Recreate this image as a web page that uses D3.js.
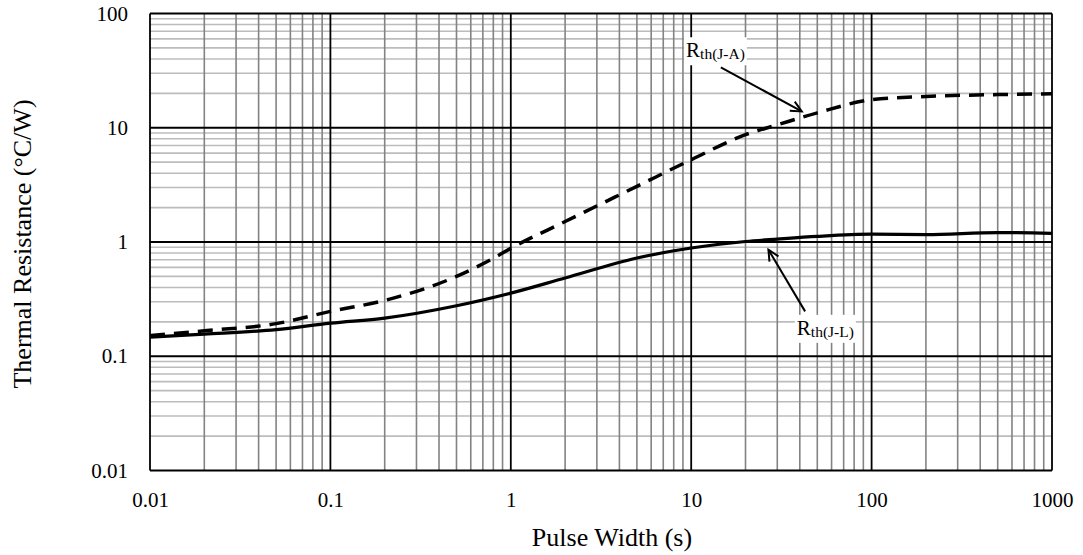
<!DOCTYPE html>
<html lang="en">
	<head>
		<meta charset="utf-8">
		<title>Transient thermal resistance</title>
		<script type="text/javascript" src="https://cdn.jsdelivr.net/npm/d3@7"></script>
		<style type="text/css">
			body { margin: 0; background: #fff; }
			text { font-family: "Liberation Serif", "Times New Roman", serif; fill: #000; }
		</style>
	</head>
	<body>
		<script type="text/javascript">

			//Data
			let pulseJL = [0.01, 0.02, 0.05, 0.1, 0.2, 0.5, 1, 2, 5, 10, 20, 30, 50, 100, 200, 500, 1000];
			let rthJL   = [0.147, 0.156, 0.171, 0.195, 0.216, 0.277, 0.357, 0.484, 0.724, 0.886, 1.01, 1.06, 1.12, 1.17, 1.16, 1.21, 1.19];

			let pulseJA = [0.01, 0.02, 0.05, 0.1, 0.2, 0.5, 0.8, 1, 2, 5, 10, 20, 30, 50, 100, 200, 500, 1000];
			let rthJA   = [0.152, 0.167, 0.193, 0.247, 0.308, 0.50, 0.72, 0.88, 1.51, 3.07, 5.25, 8.7, 10.6, 13.5, 17.6, 18.8, 19.5, 19.8];

			let xTickValues = [0.01, 0.1, 1, 10, 100, 1000];
			let xTickLabels = ["0.01", "0.1", "1", "10", "100", "1000"];
			let yTickValues = [0.01, 0.1, 1, 10, 100];
			let yTickLabels = ["0.01", "0.1", "1", "10", "100"];

			//Width and height
			let w = 1083;
			let h = 555;
			let margin = {top: 13.5, right: 31, bottom: 84.5, left: 150};

			let svg = d3.select("body")
						.append("svg")
						.attr("width", w)
						.attr("height", h);

			let x = d3.scaleLog()
					  .domain([0.01, 1000])
					  .range([margin.left, w - margin.right]);

			let y = d3.scaleLog()
					  .domain([0.01, 100])
					  .range([h - margin.bottom, margin.top]);

			//Minor grid values (2..9 in every decade)
			let minors = (lo, hi) => {
				let out = [];
				for (let p = Math.log10(lo); p < Math.log10(hi); p++) {
					for (let k = 2; k <= 9; k++) out.push(k * Math.pow(10, p));
				}
				return out;
			};

			let grid = svg.append("g");

			grid.selectAll("line.hminor")
				.data(minors(0.01, 100))
				.enter()
				.append("line")
				.attr("x1", x.range()[0]).attr("x2", x.range()[1])
				.attr("y1", d => y(d)).attr("y2", d => y(d))
				.attr("stroke", "#bcbcbc")
				.attr("stroke-width", 1.6);

			grid.selectAll("line.vminor")
				.data(minors(0.01, 1000))
				.enter()
				.append("line")
				.attr("y1", y.range()[0]).attr("y2", y.range()[1])
				.attr("x1", d => x(d)).attr("x2", d => x(d))
				.attr("stroke", "#838383")
				.attr("stroke-width", 1.6);

			grid.selectAll("line.hmajor")
				.data(yTickValues)
				.enter()
				.append("line")
				.attr("x1", x.range()[0]).attr("x2", x.range()[1])
				.attr("y1", d => y(d)).attr("y2", d => y(d))
				.attr("stroke", "#000")
				.attr("stroke-width", 1.8);

			grid.selectAll("line.vmajor")
				.data(xTickValues)
				.enter()
				.append("line")
				.attr("y1", y.range()[0]).attr("y2", y.range()[1])
				.attr("x1", d => x(d)).attr("x2", d => x(d))
				.attr("stroke", "#000")
				.attr("stroke-width", 1.8);

			//Axes (labels only, the frame is drawn by the grid)
			let xAxis = d3.axisBottom(x)
						  .tickValues(xTickValues)
						  .tickFormat((d, i) => xTickLabels[i])
						  .tickSize(0)
						  .tickPadding(22);

			let yAxis = d3.axisLeft(y)
						  .tickValues(yTickValues)
						  .tickFormat((d, i) => yTickLabels[i])
						  .tickSize(0)
						  .tickPadding(22);

			svg.append("g")
			   .attr("transform", "translate(0," + y.range()[0] + ")")
			   .call(xAxis)
			   .call(g => g.select(".domain").remove())
			   .selectAll("text")
			   .style("font-family", "Liberation Serif")
			   .style("font-size", "21px");

			svg.append("g")
			   .attr("transform", "translate(" + x.range()[0] + ",0)")
			   .call(yAxis)
			   .call(g => g.select(".domain").remove())
			   .selectAll("text")
			   .style("font-family", "Liberation Serif")
			   .style("font-size", "21px");

			//Axis titles
			svg.append("text")
			   .attr("x", (x.range()[0] + x.range()[1]) / 2 + 11)
			   .attr("y", 546)
			   .attr("text-anchor", "middle")
			   .style("font-size", "26px")
			   .text("Pulse Width (s)");

			svg.append("text")
			   .attr("transform", "translate(31," + ((y.range()[0] + y.range()[1]) / 2 + 2) + ") rotate(-90)")
			   .attr("text-anchor", "middle")
			   .style("font-size", "26px")
			   .text("Thermal Resistance (°C/W)");

			//Curves
			let line = d3.line()
						 .x(d => x(d[0]))
						 .y(d => y(d[1]))
						 .curve(d3.curveMonotoneX);

			svg.append("path")
			   .datum(d3.zip(pulseJA, rthJA))
			   .attr("d", line)
			   .attr("fill", "none")
			   .attr("stroke", "#000")
			   .attr("stroke-width", 3.5)
			   .attr("stroke-dasharray", "15,9");

			svg.append("path")
			   .datum(d3.zip(pulseJL, rthJL))
			   .attr("d", line)
			   .attr("fill", "none")
			   .attr("stroke", "#000")
			   .attr("stroke-width", 3.2);

			//Callouts, placed in data coordinates
			let callouts = [
				{sub: "th(J-A)", tx: 9.37, ty: 41.4, from: [14.6, 33.8], to: [41, 13.9]},
				{sub: "th(J-L)", tx: 38.5, ty: 0.154, from: [42.8, 0.247], to: [26.8, 0.856]}
			];

			callouts.forEach(c => {
				let g = svg.append("g");
				let box = g.append("rect").attr("fill", "#fff");
				let t = g.append("text")
						 .attr("x", x(c.tx))
						 .attr("y", y(c.ty))
						 .style("font-size", "21px");
				t.append("tspan").text("R");
				t.append("tspan")
				 .attr("dy", 2)
				 .style("font-size", "15.5px")
				 .text(c.sub);
				let bb = t.node().getBBox();
				box.attr("x", bb.x - 2).attr("y", bb.y - 1)
				   .attr("width", bb.width + 4).attr("height", bb.height + 3);

				let x1 = x(c.from[0]), y1 = y(c.from[1]);
				let x2 = x(c.to[0]), y2 = y(c.to[1]);
				let ang = Math.atan2(y2 - y1, x2 - x1);
				let len = 12, spread = 0.45;
				svg.append("line")
				   .attr("x1", x1).attr("y1", y1)
				   .attr("x2", x2).attr("y2", y2)
				   .attr("stroke", "#000")
				   .attr("stroke-width", 2);
				svg.append("path")
				   .attr("d", "M" + (x2 - len * Math.cos(ang - spread)) + "," + (y2 - len * Math.sin(ang - spread)) +
							  "L" + x2 + "," + y2 +
							  "L" + (x2 - len * Math.cos(ang + spread)) + "," + (y2 - len * Math.sin(ang + spread)))
				   .attr("fill", "none")
				   .attr("stroke", "#000")
				   .attr("stroke-width", 2);
			});

		</script>
	</body>
</html>
